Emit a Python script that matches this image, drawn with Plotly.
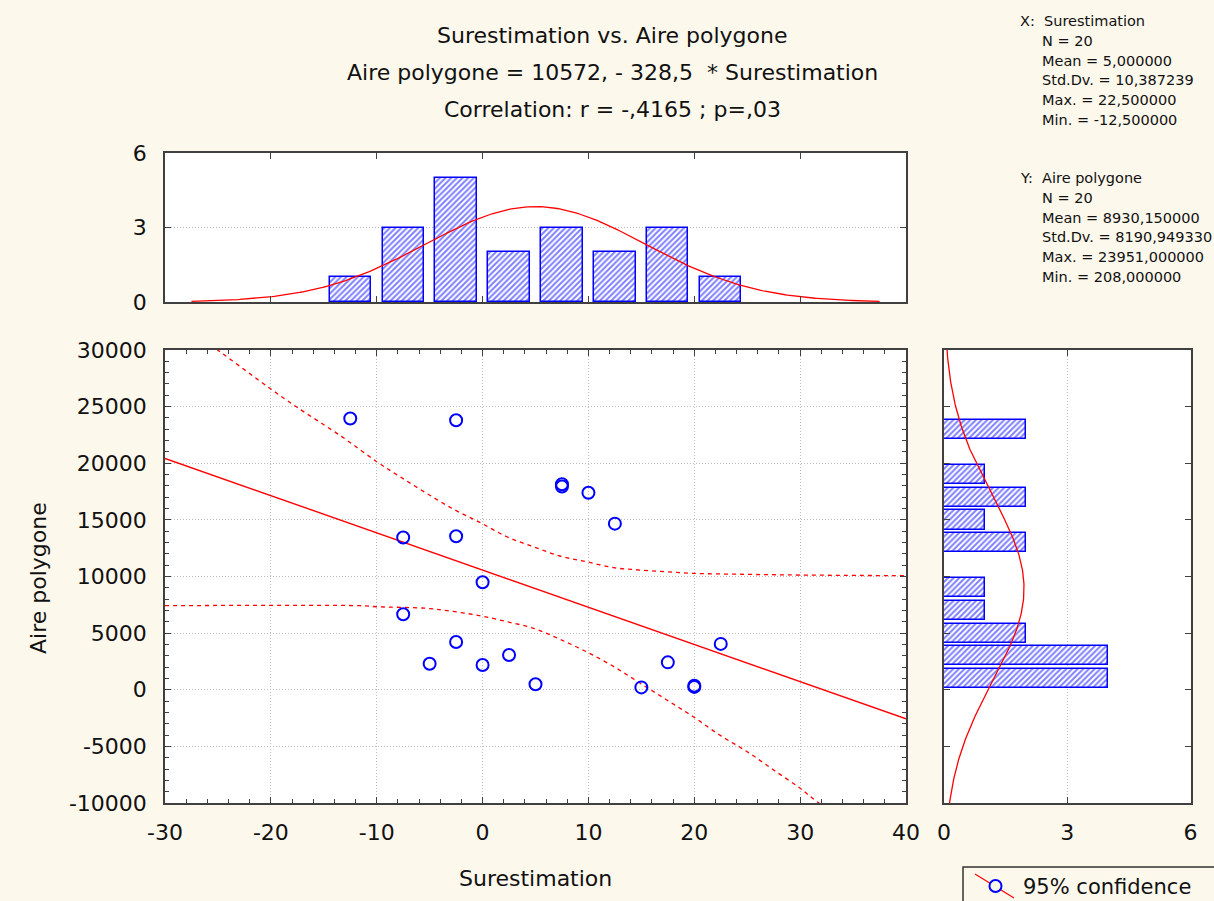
import numpy as np
import plotly.graph_objects as go

# ---------------- data ----------------
surestimation = [-12.5, -2.5, -7.5, -2.5, 0.0, -7.5, -2.5, -5.0, 0.0, 2.5,
                 5.0, 7.5, 7.5, 10.0, 12.5, 15.0, 17.5, 20.0, 20.0, 22.5]
aire_polygone = [23951, 23800, 13450, 13550, 9488, 6662, 4216, 2300, 2185, 3068,
                 481, 17950, 18150, 17400, 14666, 208, 2420, 250, 350, 4050]

histx_centers = [-12.5, -7.5, -2.5, 2.5, 7.5, 12.5, 17.5, 22.5]
histx_counts = [1, 3, 5, 2, 3, 2, 3, 1]
histy_centers = [1000, 3000, 5000, 7000, 9000, 11000, 13000, 15000, 17000, 19000, 21000, 23000]
histy_counts = [4, 4, 2, 1, 1, 0, 2, 1, 2, 1, 0, 2]

intercept = 10572.0
slope = -328.5

band_upper_x = [-30, -24.8, -20.1, -17.6, -13.3, -10.0, -7.8, -5.3, -2.6, -0.1, 2.3, 4.8, 7.3,
                9.8, 12.4, 14.9, 17.4, 19.9, 25.0, 30.0, 40.0]
band_upper_y = [33400, 29850, 26620, 24990, 22350, 20140, 18810, 17350, 15870, 14700, 13510, 12630, 11810,
                11310, 10780, 10570, 10420, 10280, 10190, 10130, 10070]
band_lower_x = [-30, -11.6, -10.0, -5.3, -2.6, -0.1, 2.3, 4.8, 7.3, 9.8, 12.4, 14.9, 17.4, 19.9,
                22.4, 25.0, 27.5, 30.0, 31.6, 40.0]
band_lower_y = [7420, 7420, 7330, 7190, 6890, 6510, 6010, 5430, 4460, 3360, 2040, 570, -900, -2380,
                -4000, -5470, -7090, -8700, -9890, -15300]

x_n, x_mean, x_sd = 20, 5.0, 10.387239
y_n, y_mean, y_sd = 20, 8930.15, 8190.9493
binw_x, binw_y = 5.0, 2000.0

x_tickvals = [-30, -20, -10, 0, 10, 20, 30, 40]
x_ticktext = ["-30", "-20", "-10", "0", "10", "20", "30", "40"]
y_tickvals = [-10000, -5000, 0, 5000, 10000, 15000, 20000, 25000, 30000]
y_ticktext = ["-10000", "-5000", "0", "5000", "10000", "15000", "20000", "25000", "30000"]
count_tickvals = [0, 3, 6]
count_ticktext = ["0", "3", "6"]

stats_lines_x = ["X:  Surestimation", "N = 20", "Mean = 5,000000", "Std.Dv. = 10,387239",
                 "Max. = 22,500000", "Min. = -12,500000"]
stats_lines_y = ["Y:  Aire polygone", "N = 20", "Mean = 8930,150000", "Std.Dv. = 8190,949330",
                 "Max. = 23951,000000", "Min. = 208,000000"]
title_lines = ["Surestimation vs. Aire polygone",
               "Aire polygone = 10572, - 328,5  * Surestimation",
               "Correlation: r = -,4165 ; p=,03"]
x_title = "Surestimation"
y_title = "Aire polygone"
legend_text = "95% confidence"

# ---------------- helpers ----------------
W, H = 1214, 901
def px(x):
    return x / W
def py(y):
    return 1 - y / H

BG = "#FDF8EC"
FONT = "DejaVu Sans, Liberation Sans, Arial, sans-serif"
BLUE = "#0000FF"
RED = "#FF0000"
AX = "#404040"
TXT = "#111111"

fig = go.Figure()

hatch = dict(shape="/", fgcolor=BLUE, bgcolor="white", size=4, solidity=0.5)

# top histogram
fig.add_trace(go.Bar(
    x=histx_centers, y=histx_counts, width=[binw_x * 0.78] * len(histx_centers),
    marker=dict(color="white", line=dict(color=BLUE, width=1.5), pattern=hatch),
    xaxis="x2", yaxis="y2", showlegend=False))
gx = np.linspace(x_mean - 32.5, x_mean + 32.5, 300)
gy = x_n * binw_x * np.exp(-0.5 * ((gx - x_mean) / x_sd) ** 2) / (x_sd * np.sqrt(2 * np.pi))
fig.add_trace(go.Scatter(x=gx, y=gy, mode="lines", line=dict(color=RED, width=1.3),
                         xaxis="x2", yaxis="y2", showlegend=False))

# right histogram
fig.add_trace(go.Bar(
    y=histy_centers, x=histy_counts, orientation="h", width=[binw_y * 0.85] * len(histy_centers),
    marker=dict(color="white", line=dict(color=BLUE, width=1.5), pattern=hatch),
    xaxis="x3", yaxis="y3", showlegend=False))
hy = np.linspace(-12000, 32000, 400)
hx = y_n * binw_y * np.exp(-0.5 * ((hy - y_mean) / y_sd) ** 2) / (y_sd * np.sqrt(2 * np.pi))
fig.add_trace(go.Scatter(x=hx, y=hy, mode="lines", line=dict(color=RED, width=1.3),
                         xaxis="x3", yaxis="y3", showlegend=False))

# main scatter
lx = np.array([-30.0, 40.0])
fig.add_trace(go.Scatter(x=lx, y=intercept + slope * lx, mode="lines",
                         line=dict(color=RED, width=1.4), showlegend=False))
fig.add_trace(go.Scatter(x=band_upper_x, y=band_upper_y, mode="lines", line_shape="spline",
                         line=dict(color=RED, width=1.3, dash="4px,4px"), showlegend=False))
fig.add_trace(go.Scatter(x=band_lower_x, y=band_lower_y, mode="lines", line_shape="spline",
                         line=dict(color=RED, width=1.3, dash="4px,4px"), showlegend=False))
fig.add_trace(go.Scatter(x=surestimation, y=aire_polygone, mode="markers",
                         marker=dict(symbol="circle-open", size=12, color=BLUE, line=dict(width=2)),
                         showlegend=False))

tickfont = dict(family=FONT, size=22, color=TXT)
common = dict(showline=True, linecolor=AX, linewidth=1.5, mirror="allticks", ticks="inside",
              tickcolor=AX, zeroline=False, tickfont=tickfont, gridcolor="#BDBDBD",
              griddash="1px,2px", gridwidth=1, automargin=False)

xdom = [px(165), px(906)]
ymain = [py(803), py(350)]
fig.update_layout(
    width=W, height=H, margin=dict(l=0, r=0, t=0, b=0, autoexpand=False),
    paper_bgcolor=BG, plot_bgcolor="white", font=dict(family=FONT, color=TXT),
    bargap=0,
    xaxis=dict(domain=xdom, anchor="y", range=[-30, 40], tickmode="array",
               tickvals=x_tickvals, ticktext=x_ticktext, ticklen=6,
               showgrid=True, ticklabelstandoff=9,
               minor=dict(tickmode="array", tickvals=list(np.arange(-30, 41, 2)),
                          ticks="inside", ticklen=4, tickcolor=AX, showgrid=False),
               **common),
    yaxis=dict(domain=ymain, anchor="x", range=[-10000, 30000], tickmode="array",
               tickvals=y_tickvals, ticktext=y_ticktext, ticklen=6,
               showgrid=True, ticklabelstandoff=12,
               minor=dict(tickmode="array", tickvals=list(np.arange(-10000, 30001, 1000)),
                          ticks="inside", ticklen=4, tickcolor=AX, showgrid=False),
               **common),
    xaxis2=dict(domain=xdom, anchor="y2", range=[-30, 40], tickmode="array", tickvals=x_tickvals,
                ticklen=6, showticklabels=False, showgrid=False, **common),
    yaxis2=dict(domain=[py(302), py(153)], anchor="x2", range=[0, 6], tickmode="array",
                tickvals=count_tickvals, ticktext=count_ticktext, ticklen=6,
                showgrid=True, ticklabelstandoff=12, **common),
    xaxis3=dict(domain=[px(944), px(1190.5)], anchor="y3", range=[0, 6], tickmode="array",
                tickvals=count_tickvals, ticktext=count_ticktext, ticklen=6,
                showgrid=True, ticklabelstandoff=9, **common),
    yaxis3=dict(domain=ymain, anchor="x3", range=[-10000, 30000], tickmode="array",
                tickvals=y_tickvals, ticklen=6,
                showgrid=False, showticklabels=False, **common),
)

ann = []
for i, t in enumerate(title_lines):
    ann.append(dict(text=t, x=px(612), y=py(35 + i * 37.5), xref="paper", yref="paper",
                    xanchor="center", yanchor="middle", showarrow=False,
                    font=dict(family=FONT, size=22, color=TXT)))
for block, y0 in ((stats_lines_x, 21), (stats_lines_y, 178)):
    for i, t in enumerate(block):
        xx = 1018 if i == 0 else 1040
        ann.append(dict(text=t, x=px(xx), y=py(y0 + i * 19.8), xref="paper", yref="paper",
                        xanchor="left", yanchor="middle", showarrow=False,
                        font=dict(family=FONT, size=14.5, color=TXT)))
ann.append(dict(text=x_title, x=px(535), y=py(878), xref="paper", yref="paper",
                xanchor="center", yanchor="middle", showarrow=False,
                font=dict(family=FONT, size=22, color=TXT)))
ann.append(dict(text=y_title, x=px(38), y=py(578), xref="paper", yref="paper", textangle=-90,
                xanchor="center", yanchor="middle", showarrow=False,
                font=dict(family=FONT, size=22, color=TXT)))
ann.append(dict(text=legend_text, x=px(1021), y=py(887), xref="paper", yref="paper",
                xanchor="left", yanchor="middle", showarrow=False,
                font=dict(family=FONT, size=21, color=TXT)))
fig.update_layout(annotations=ann)

shapes = [
    dict(type="rect", xref="paper", yref="paper", x0=px(963), y0=py(905), x1=px(1222), y1=py(867),
         line=dict(color="#333333", width=1.5), fillcolor=BG),
    dict(type="line", xref="paper", yref="paper", x0=px(975), y0=py(874), x1=px(1014), y1=py(898),
         line=dict(color=RED, width=1.3)),
    dict(type="circle", xref="paper", yref="paper", x0=px(989.5), y0=py(892), x1=px(1001.5), y1=py(880),
         line=dict(color=BLUE, width=2), fillcolor=BG),
]
fig.update_layout(shapes=shapes)

fig.write_html("out.html")
